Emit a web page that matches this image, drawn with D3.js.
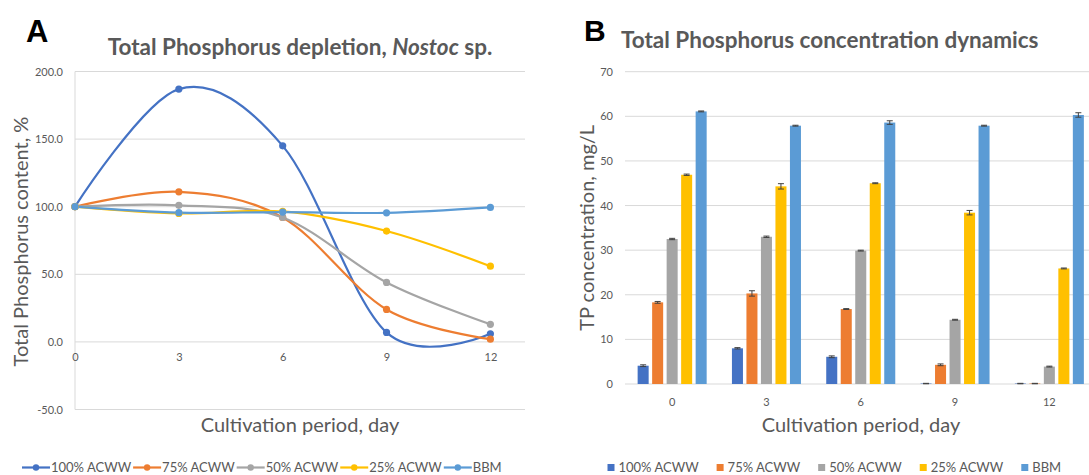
<!DOCTYPE html>
<html><head><meta charset="utf-8">
<script src="https://cdn.jsdelivr.net/npm/d3@7"></script>
<style>
body{margin:0;background:#fff;}
svg{display:block;font-family:Lato,"Open Sans",sans-serif;}
</style></head>
<body><svg id="c" width="1089" height="475"></svg>
<script>
// ---------- data ----------
const days = [0, 3, 6, 9, 12];
const seriesNames = ["100% ACWW", "75% ACWW", "50% ACWW", "25% ACWW", "BBM"];
const seriesColors = ["#4472C4", "#ED7D31", "#A5A5A5", "#FFC000", "#5B9BD5"];

// Panel A: Total phosphorus depletion, %
const depl100 = [100, 187, 145, 7, 6];
const depl75 = [100, 111, 92, 24, 2];
const depl50 = [100, 101, 92, 44, 13];
const depl25 = [100, 95, 96.5, 82, 56];
const deplBBM = [100, 95.6, 96, 95.5, 99.5];
const yTicksA = [-50, 0, 50, 100, 150, 200];

// Panel B: TP concentration, mg/L
const tp100 = [4.1, 8.0, 6.1, 0.1, 0.1];
const tp75 = [18.3, 20.3, 16.8, 4.3, 0.1];
const tp50 = [32.5, 33.0, 29.9, 14.4, 3.9];
const tp25 = [46.9, 44.3, 45.0, 38.4, 25.9];
const tpBBM = [61.1, 57.9, 58.6, 57.9, 60.3];
const err100 = [0.2, 0.15, 0.2, 0.05, 0.05];
const err75 = [0.2, 0.6, 0.1, 0.2, 0.05];
const err50 = [0.15, 0.15, 0.1, 0.1, 0.1];
const err25 = [0.15, 0.6, 0.1, 0.5, 0.1];
const errBBM = [0.1, 0.1, 0.4, 0.1, 0.5];
const yTicksB = [0, 10, 20, 30, 40, 50, 60, 70];

const deplSeries = [depl100, depl75, depl50, depl25, deplBBM];
const tpSeries = [tp100, tp75, tp50, tp25, tpBBM];
const errSeries = [err100, err75, err50, err25, errBBM];

const svg = d3.select("#c");
const TXT = "#595959", GRID = "#d9d9d9";

// ================= Panel A =================
const A = { left: 75, right: 525, top: 71.5, bottom: 409.5 };
const xA = d3.scaleLinear().domain([0, 13]).range([A.left, A.right]);
const yA = d3.scaleLinear().domain([-50, 200]).range([A.bottom, A.top]);

const gA = svg.append("g");
gA.append("g").selectAll("line").data(yTicksA).join("line")
  .attr("x1", A.left).attr("x2", A.right)
  .attr("y1", d => yA(d)).attr("y2", d => yA(d))
  .attr("stroke", GRID).attr("stroke-width", 1);
gA.append("line").attr("x1", A.left).attr("x2", A.left)
  .attr("y1", yA(200)).attr("y2", yA(-50)).attr("stroke", GRID);
const axYA = d3.axisLeft(yA).tickValues(yTicksA).tickFormat(d => d.toFixed(1)).tickSize(0).tickPadding(12);
gA.append("g").attr("transform", `translate(${A.left},0)`).call(axYA)
  .call(g => g.select(".domain").remove())
  .selectAll("text").attr("fill", TXT).style("font-size", "11px").style("font-family", "Lato");
const axXA = d3.axisBottom(xA).tickValues(days).tickSize(0).tickPadding(11);
gA.append("g").attr("transform", `translate(0,${yA(0)})`).call(axXA)
  .call(g => g.select(".domain").remove())
  .selectAll("text").attr("fill", TXT).style("font-size", "11px").style("font-family", "Lato");

const lineA = d3.line().x((d, i) => xA(days[i])).y(d => yA(d)).curve(d3.curveCardinal.tension(0));
deplSeries.forEach((s, k) => {
  gA.append("path").datum(s).attr("d", lineA).attr("fill", "none")
    .attr("stroke", seriesColors[k]).attr("stroke-width", 2.2);
});
deplSeries.forEach((s, k) => {
  gA.append("g").selectAll("circle").data(s).join("circle")
    .attr("cx", (d, i) => xA(days[i])).attr("cy", d => yA(d)).attr("r", 3.6)
    .attr("fill", seriesColors[k]);
});

svg.append("text").attr("x", 26).attr("y", 42).text("A")
  .style("font-family", "Liberation Sans, Arial").style("font-weight", "bold").style("font-size", "31px").attr("fill", "#000");
const tA = svg.append("text").attr("x", 300).attr("y", 55).attr("text-anchor", "middle")
  .attr("fill", TXT).style("font-weight", "bold").style("font-size", "22.5px");
tA.append("tspan").text("Total Phosphorus depletion, ");
tA.append("tspan").text("Nostoc").style("font-style", "italic");
tA.append("tspan").text(" sp.");
svg.append("text").attr("transform", `translate(28,${(A.top + A.bottom) / 2 + 1}) rotate(-90)`)
  .attr("text-anchor", "middle").attr("fill", TXT).style("font-size", "20px").text("Total Phosphorus content, %");
svg.append("text").attr("x", 300).attr("y", 432).attr("text-anchor", "middle")
  .attr("fill", TXT).style("font-size", "20px").text("Cultivation period, day");

// legend A
{
  const g = svg.append("g");
  let x = 22;
  const y = 467.5;
  seriesNames.forEach((n, k) => {
    g.append("line").attr("x1", x).attr("x2", x + 28).attr("y1", y).attr("y2", y)
      .attr("stroke", seriesColors[k]).attr("stroke-width", 2.2);
    g.append("circle").attr("cx", x + 14).attr("cy", y).attr("r", 3.2).attr("fill", seriesColors[k]);
    const t = g.append("text").attr("x", x + 29).attr("y", y + 4.5).attr("fill", TXT)
      .style("font-size", "13px").text(n);
    x += 29 + t.node().getComputedTextLength() + 2;
  });
}

// ================= Panel B =================
const B = { left: 625, right: 1096.5, top: 71.7, bottom: 384, gridRight: 1089 };
const x0 = d3.scaleBand().domain(days).range([B.left, B.right]).paddingInner(0.268).paddingOuter(0.134);
const x1 = d3.scaleBand().domain(d3.range(seriesNames.length)).range([0, x0.bandwidth()]).paddingInner(0.24);
const yB = d3.scaleLinear().domain([0, 70]).range([B.bottom, B.top]);

const gB = svg.append("g");
gB.append("g").selectAll("line").data(yTicksB).join("line")
  .attr("x1", B.left).attr("x2", B.gridRight)
  .attr("y1", d => yB(d)).attr("y2", d => yB(d))
  .attr("stroke", GRID).attr("stroke-width", 1);
const axYB = d3.axisLeft(yB).tickValues(yTicksB).tickSize(0).tickPadding(12);
gB.append("g").attr("transform", `translate(${B.left},0)`).call(axYB)
  .call(g => g.select(".domain").remove())
  .selectAll("text").attr("fill", TXT).style("font-size", "11px").style("font-family", "Lato");
const axXB = d3.axisBottom(x0).tickSize(0).tickPadding(14);
gB.append("g").attr("transform", `translate(0,${B.bottom})`).call(axXB)
  .call(g => g.select(".domain").remove())
  .selectAll("text").attr("fill", TXT).style("font-size", "11px").style("font-family", "Lato");

tpSeries.forEach((s, k) => {
  gB.append("g").selectAll("rect").data(s).join("rect")
    .attr("x", (d, i) => x0(days[i]) + x1(k))
    .attr("y", d => yB(d)).attr("width", x1.bandwidth())
    .attr("height", d => yB(0) - yB(d)).attr("fill", seriesColors[k]);
});
tpSeries.forEach((s, k) => {
  const g = gB.append("g").attr("stroke", "#404040").attr("stroke-width", 1);
  s.forEach((v, i) => {
    const e = errSeries[k][i];
    const cx = x0(days[i]) + x1(k) + x1.bandwidth() / 2;
    const y1 = yB(v + e), y2 = yB(Math.max(0, v - e));
    g.append("line").attr("x1", cx).attr("x2", cx).attr("y1", y1).attr("y2", y2);
    g.append("line").attr("x1", cx - 3).attr("x2", cx + 3).attr("y1", y1).attr("y2", y1);
    g.append("line").attr("x1", cx - 3).attr("x2", cx + 3).attr("y1", y2).attr("y2", y2);
  });
});

svg.append("text").attr("x", 584).attr("y", 41).text("B")
  .style("font-family", "Liberation Sans, Arial").style("font-weight", "bold").style("font-size", "30px").attr("fill", "#000");
svg.append("text").attr("x", 621).attr("y", 47.5)
  .attr("fill", TXT).style("font-weight", "bold").style("font-size", "22.5px").text("Total Phosphorus concentration dynamics");
svg.append("text").attr("transform", `translate(594,${(B.top + B.bottom) / 2}) rotate(-90)`)
  .attr("text-anchor", "middle").attr("fill", TXT).style("font-size", "20px").text("TP concentration, mg/L");
svg.append("text").attr("x", 861).attr("y", 432).attr("text-anchor", "middle")
  .attr("fill", TXT).style("font-size", "20px").text("Cultivation period, day");

// legend B
{
  const g = svg.append("g");
  let x = 607.5;
  const y = 467.5;
  seriesNames.forEach((n, k) => {
    g.append("rect").attr("x", x).attr("y", y - 3.5).attr("width", 7).attr("height", 7).attr("fill", seriesColors[k]);
    const t = g.append("text").attr("x", x + 11).attr("y", y + 4.5).attr("fill", TXT)
      .style("font-size", "13px").text(n);
    x += 11 + t.node().getComputedTextLength() + 18;
  });
}
</script></body></html>
